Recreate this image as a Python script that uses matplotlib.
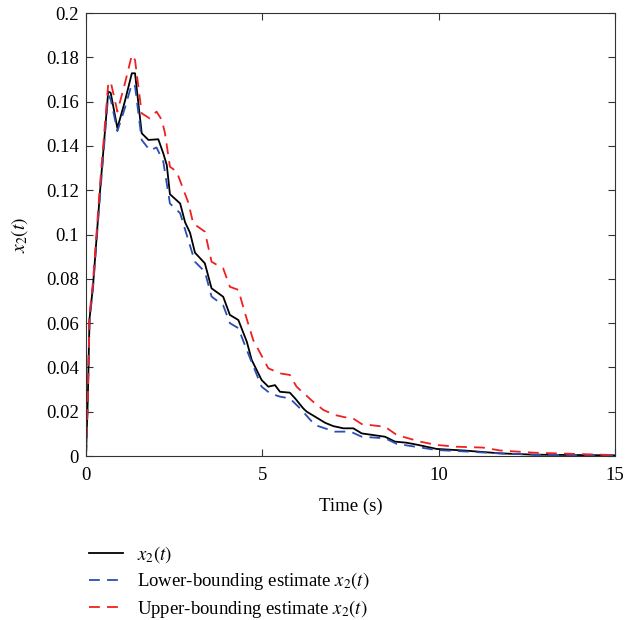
import numpy as np
import matplotlib.pyplot as plt

plt.rcParams['font.family'] = ['Liberation Serif', 'DejaVu Serif']
plt.rcParams['mathtext.fontset'] = 'stix'

t_true = [0, 0.05, 0.1, 0.2, 0.4, 0.63, 0.7, 0.89, 1.1, 1.3, 1.39, 1.58, 1.77, 2.05, 2.19, 2.29,
          2.38, 2.67, 2.81, 2.95, 3.09, 3.37, 3.56, 3.89, 4.08, 4.32, 4.56, 4.7, 4.98, 5.17,
          5.36, 5.5, 5.78, 5.93, 6.16, 6.26, 6.49, 6.78, 7.01, 7.3, 7.58, 7.82, 8.48, 8.76,
          9.09, 9.42, 9.94, 10.79, 11.74, 12.7, 15]
x2_true = [0, 0.025, 0.062, 0.077, 0.12, 0.1645, 0.164, 0.148, 0.16, 0.1728, 0.1728, 0.1457,
           0.1427, 0.143, 0.1367, 0.1314, 0.1182, 0.114, 0.1055, 0.1008, 0.0918, 0.087, 0.0757,
           0.0719, 0.0637, 0.0614, 0.0516, 0.0433, 0.0343, 0.0313, 0.032, 0.029, 0.0286, 0.026,
           0.0215, 0.020, 0.0178, 0.015, 0.0135, 0.0125, 0.0125, 0.0102, 0.0087, 0.0065,
           0.006, 0.005, 0.0032, 0.0024, 0.0012, 0.0006, 0.0003]

t_low = [0, 0.05, 0.1, 0.2, 0.4, 0.63, 0.7, 0.89, 1.1, 1.3, 1.39, 1.58, 1.81, 2.0, 2.19, 2.38,
         2.67, 2.9, 3.09, 3.37, 3.56, 3.89, 4.08, 4.32, 4.56, 4.98, 5.22, 5.5, 5.78, 6.07,
         6.49, 7.06, 7.5, 7.82, 8.48, 8.81, 9.94, 10.8, 11.7, 12.7, 15]
x2_low = [0, 0.025, 0.061, 0.076, 0.118, 0.163, 0.161, 0.1467, 0.157, 0.168, 0.167, 0.1427,
          0.138, 0.1393, 0.133, 0.114, 0.1096, 0.0975, 0.0877, 0.0832, 0.072, 0.068, 0.06,
          0.0577, 0.0478, 0.0313, 0.0283, 0.0268, 0.026, 0.0215, 0.014, 0.011, 0.011, 0.0087,
          0.008, 0.0055, 0.0027, 0.002, 0.0012, 0.0006, 0.0002]

t_up = [0, 0.05, 0.1, 0.2, 0.4, 0.63, 0.7, 0.89, 1.1, 1.3, 1.39, 1.58, 1.81, 2.0, 2.15, 2.24,
        2.38, 2.57, 2.9, 3.04, 3.37, 3.56, 3.89, 4.08, 4.32, 4.51, 4.74, 5.17, 5.5, 5.78,
        5.97, 6.44, 6.73, 7.06, 7.34, 7.57, 7.82, 8.48, 8.81, 9.47, 9.94, 10.5, 11.26, 11.74,
        12.7, 15]
x2_up = [0, 0.026, 0.064, 0.079, 0.123, 0.168, 0.169, 0.1555, 0.168, 0.181, 0.1788, 0.1547,
         0.1524, 0.1555, 0.1517, 0.1457, 0.1306, 0.1284, 0.1145, 0.105, 0.1013, 0.0877, 0.0847,
         0.0764, 0.075, 0.0644, 0.0524, 0.0396, 0.0373, 0.0366, 0.0313, 0.0245, 0.0208,
         0.0185, 0.0175, 0.017, 0.0144, 0.0132, 0.0095, 0.0065, 0.005, 0.0042, 0.0038,
         0.0025, 0.0015, 0.0004]

fig = plt.figure(figsize=(6.25, 6.2), dpi=100)
ax = fig.add_axes([0.1376, 0.2645, 0.8464, 0.7145])

ax.plot(t_true, x2_true, color='black', linewidth=1.3, label=r'$x_2(t)$')
ax.plot(t_low, x2_low, color='#2a4fb0', linewidth=1.3, dashes=(6, 4),
        label=r'Lower-bounding estimate $x_2(t)$')
ax.plot(t_up, x2_up, color='#f02020', linewidth=1.3, dashes=(6, 4),
        label=r'Upper-bounding estimate $x_2(t)$')

ax.set_xlim(0, 15)
ax.set_ylim(0, 0.2)
ax.set_xticks([0, 5, 10, 15])
ax.set_yticks(np.arange(0, 0.201, 0.02))
ax.set_yticklabels(['0', '0.02', '0.04', '0.06', '0.08', '0.1', '0.12', '0.14', '0.16',
                    '0.18', '0.2'])
ax.tick_params(direction='in', top=True, right=True, labelsize=13.5, length=5,
               color='#333333')
ax.tick_params(axis='x', pad=8)
ax.tick_params(axis='y', pad=5)
for s in ax.spines.values():
    s.set_color('#333333')

ax.set_xlabel('Time (s)', fontsize=13.5, labelpad=10)
ax.set_ylabel(r'$x_2(t)$', fontsize=14)
ax.yaxis.set_label_coords(-0.105, 0.5)

fig.legend(loc='upper left', bbox_to_anchor=(0.13, 0.135), frameon=False,
           fontsize=13.5, handlelength=1.85, handletextpad=0.7, labelspacing=0.3,
           borderaxespad=0)

fig.savefig('out.png', dpi=100)
